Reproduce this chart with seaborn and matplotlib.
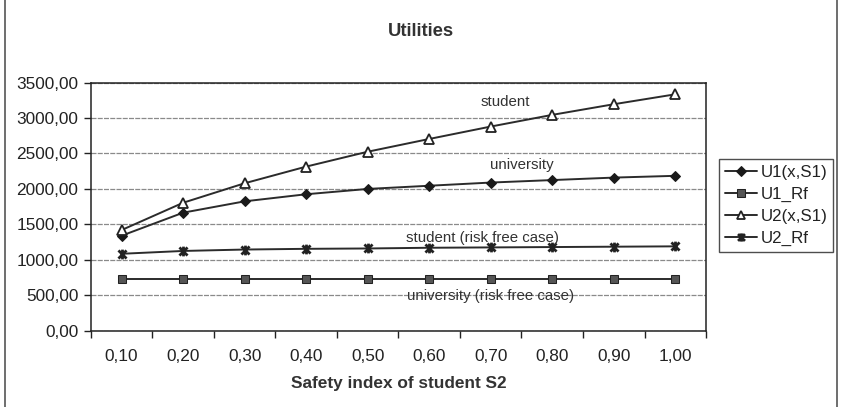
import matplotlib
matplotlib.use("Agg")
import matplotlib.pyplot as plt
from matplotlib.path import Path
from matplotlib.lines import Line2D
import seaborn as sns
import pandas as pd

# Safety index of student S2 and the utility series
safety = [0.10, 0.20, 0.30, 0.40, 0.50, 0.60, 0.70, 0.80, 0.90, 1.00]
u1_xs1 = [1340, 1665, 1825, 1925, 2000, 2045, 2090, 2125, 2160, 2185]
u1_rf = [730, 730, 730, 730, 730, 730, 730, 730, 730, 730]
u2_xs1 = [1420, 1805, 2080, 2315, 2525, 2705, 2880, 3045, 3195, 3335]
u2_rf = [1085, 1125, 1145, 1155, 1160, 1170, 1175, 1180, 1185, 1190]
series_names = ["U1(x,S1)", "U1_Rf", "U2(x,S1)", "U2_Rf"]
series_values = [u1_xs1, u1_rf, u2_xs1, u2_rf]

annotations = [
    ("student", 0.723, 3228),
    ("university", 0.751, 2339),
    ("student (risk free case)", 0.687, 1308),
    ("university (risk free case)", 0.699, 490),
]

sns.set_theme(style="white")
plt.rcParams["font.family"] = ["Liberation Sans", "DejaVu Sans"]
plt.rcParams["xtick.labelsize"] = 12.4
plt.rcParams["ytick.labelsize"] = 12.4

# Excel-style "star": an X with a vertical bar
star = Path([(-1, -1), (1, 1), (-1, 1), (1, -1), (0, -1.2), (0, 1.2)],
            [Path.MOVETO, Path.LINETO, Path.MOVETO, Path.LINETO,
             Path.MOVETO, Path.LINETO])

styles = {
    "U1(x,S1)": dict(marker="D", markersize=5.5, markerfacecolor="#1a1a1a",
                     markeredgecolor="#1a1a1a"),
    "U1_Rf": dict(marker="s", markersize=6.2, markerfacecolor="#555555",
                  markeredgecolor="#222222"),
    "U2(x,S1)": dict(marker="^", markersize=7, markerfacecolor="white",
                     markeredgecolor="#222222", markeredgewidth=1.3),
    "U2_Rf": dict(marker=star, markersize=7, markerfacecolor="none",
                  markeredgecolor="#222222", markeredgewidth=2.0),
}

df = pd.DataFrame({"safety": safety * len(series_names),
                   "utility": sum(series_values, []),
                   "series": [n for n in series_names for _ in safety]})

fig = plt.figure(figsize=(8.41, 4.07), dpi=100)
ax = fig.add_axes([0.108, 0.1875, 0.7315, 0.6095])

for name in series_names:
    sub = df[df["series"] == name]
    sns.lineplot(data=sub, x="safety", y="utility", ax=ax, color="#2b2b2b",
                 linewidth=1.4, label=name, **styles[name])

ax.set_xlim(0.05, 1.05)
ax.set_ylim(0, 3500)
yt = list(range(0, 3501, 500))
ax.set_yticks(yt, labels=[f"{v},00" for v in yt])
# category boundaries carry the tick marks, centres carry the labels
bounds = [0.05 + 0.1 * i for i in range(11)]
ax.set_xticks(bounds, labels=[""] * len(bounds))
ax.set_xticks(safety, labels=[f"{v:.2f}".replace(".", ",") for v in safety],
              minor=True)
ax.tick_params(axis="x", which="minor", length=0, pad=13,
               labelsize=12.4, labelcolor="#222222")
ax.tick_params(axis="both", which="major", direction="out", length=5,
               width=1, color="#222222", bottom=True, left=True)
ax.tick_params(axis="y", pad=4, labelsize=12.4, labelcolor="#222222")

ax.yaxis.grid(True, color="#8a8a8a", linewidth=0.9, linestyle=(0, (4, 1)))
ax.set_axisbelow(True)
for sp in ax.spines.values():
    sp.set_color("#222222")
    sp.set_linewidth(1.1)

ax.set_xlabel("Safety index of student S2", fontsize=12.4, fontweight="bold",
              color="#333333", labelpad=9)
ax.set_ylabel("")
fig.text(0.501, 0.923, "Utilities", ha="center", va="center", fontsize=13.3,
         fontweight="bold", color="#333333")

for text, x, y in annotations:
    ax.text(x, y, text, ha="center", va="center", fontsize=10.8,
            color="#333333")

leg = ax.legend(loc="center left", bbox_to_anchor=(1.021, 0.505),
                fontsize=12.2, frameon=True, fancybox=False, handlelength=1.9,
                handletextpad=0.2, borderpad=0.35, labelspacing=0.42,
                borderaxespad=0, markerscale=0.85)
leg.get_frame().set_edgecolor("#222222")
leg.get_frame().set_linewidth(1.0)
for t in leg.get_texts():
    t.set_color("#222222")

# side rules of the chart frame
for xf in (0.006, 0.995):
    fig.add_artist(Line2D([xf, xf], [0, 1], transform=fig.transFigure,
                          color="#555555", linewidth=1.2))

fig.savefig("out.png", dpi=100)
